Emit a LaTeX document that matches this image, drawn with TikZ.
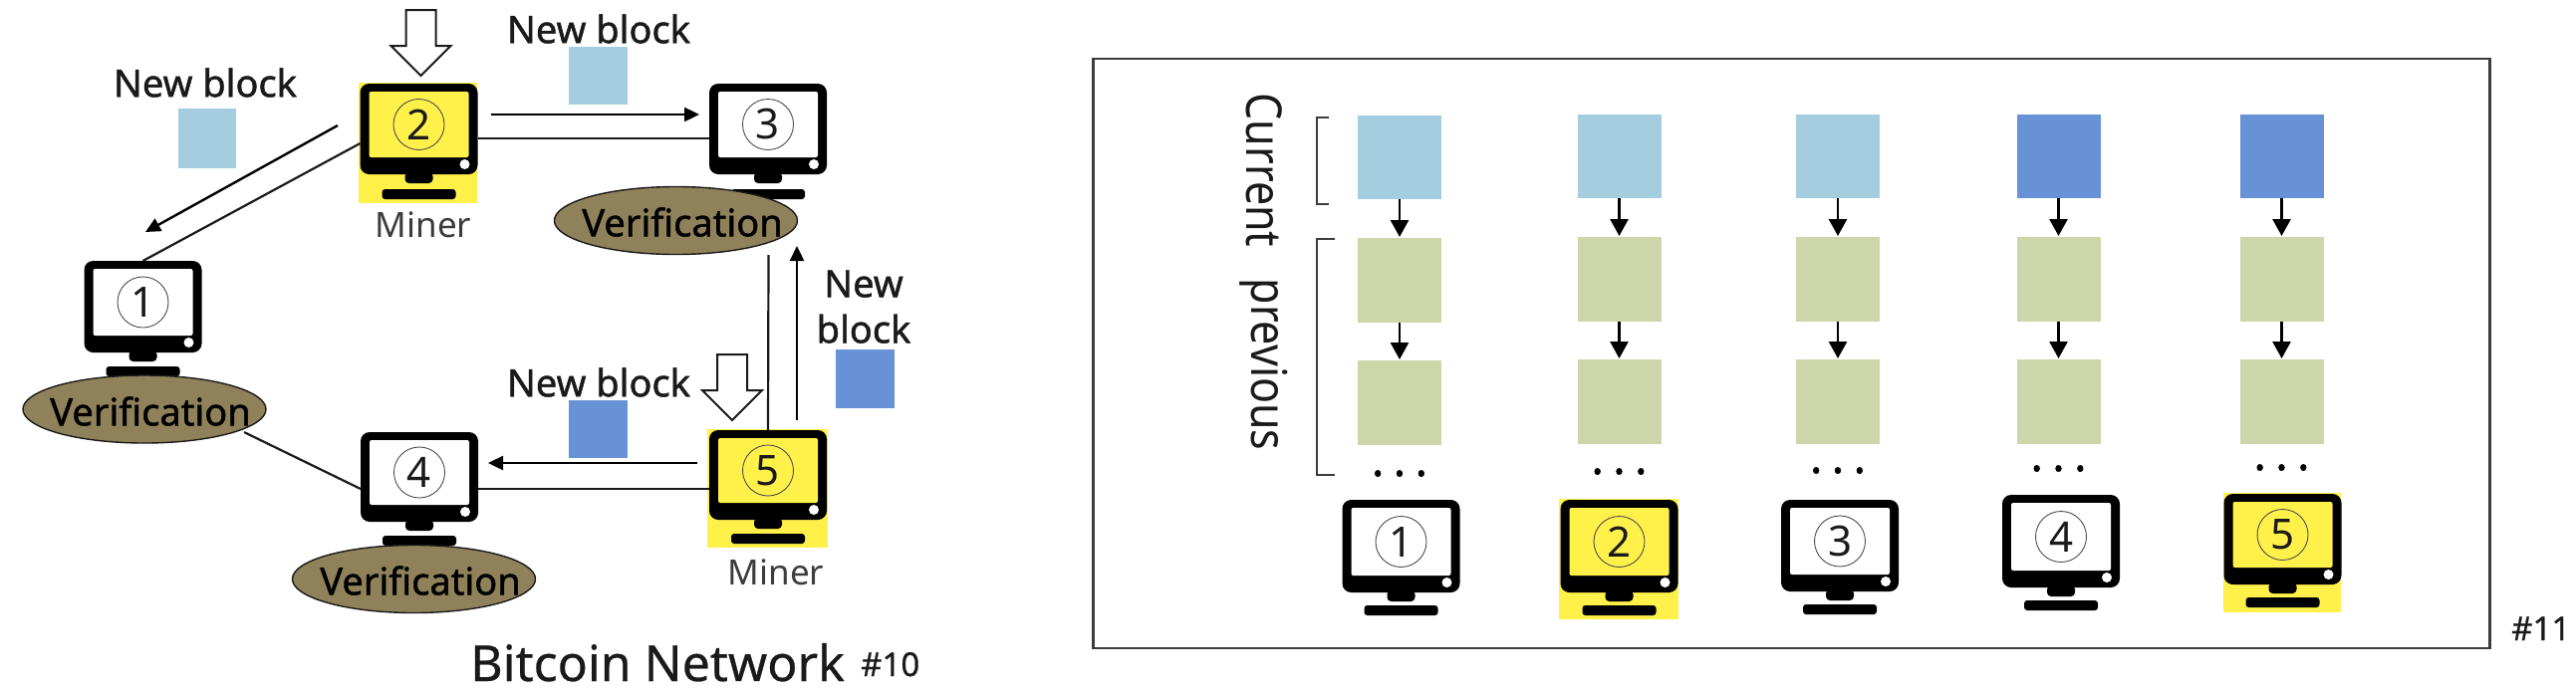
\documentclass[tikz,border=0pt]{standalone}
\usepackage{fontspec}
\setmainfont{Noto Sans}
\newfontfamily\medfont[FakeBold=1.2]{Noto Sans}
\newfontfamily\semifont[FakeBold=0.5]{Noto Sans}
\usetikzlibrary{arrows.meta,shapes.geometric,calc}
\definecolor{minery}{HTML}{FFF14A}
\definecolor{lightb}{HTML}{A5CDE0}
\definecolor{darkb}{HTML}{6792D6}
\definecolor{oldg}{HTML}{CDD6A8}
\definecolor{verif}{HTML}{8F8159}
\definecolor{inkc}{HTML}{1A1A1A}
\tikzset{
  compbody/.style={rectangle,rounded corners=9pt,fill=black,inner sep=0pt,outer sep=0pt},
  numcircle/.style={circle,draw=black!70,line width=0.9pt,minimum size=51pt,inner sep=0pt,font=\fontsize{42}{42}\selectfont,text=inkc},
  verifnode/.style={ellipse,draw=inkc,line width=1.4pt,fill=verif,minimum width=244pt,minimum height=68pt,inner sep=0pt},
  veriftext/.style={font=\medfont\fontsize{38}{38}\selectfont,text=black,inner sep=0pt},
  newblock/.style={font=\medfont\fontsize{38}{46}\selectfont,align=center,text=inkc,inner sep=0pt},
  minerlabel/.style={font=\fontsize{35}{35}\selectfont,text=inkc!85,inner sep=0pt},
  block/.style={rectangle,inner sep=0pt,outer sep=0pt},
  link/.style={line width=2.2pt,draw=inkc},
  flow/.style={line width=2.4pt,draw=black,-{Triangle[length=15pt,width=14pt]}},
  chain/.style={line width=2.6pt,draw=black,-{Triangle[length=17pt,width=18pt]},shorten >=1pt},
  hollow/.style={draw=inkc,line width=2pt,fill=white,line join=miter},
  bracket/.style={draw=inkc!85,line width=2pt},
  sidelabel/.style={font=\fontsize{43}{43}\selectfont,rotate=-90,text=inkc,inner sep=0pt},
  pagenum/.style={font=\semifont\fontsize{33}{33}\selectfont,text=inkc,inner sep=0pt},
  dotsnode/.style={font=\medfont\fontsize{46}{46}\selectfont,text=black,inner sep=0pt,anchor=base}
}
% name, cx, top, body bottom, base top, number, screen colour
\newcommand{\computer}[7]{%
  \node[compbody,minimum width=118pt,minimum height={(#4-#3)*1pt}] (#1) at (#2,{(#3+#4)/2}) {};
  \fill[#7,rounded corners=2pt] ({#2-50},{#3+8}) rectangle ({#2+50},{#4-17});
  \fill[white] ({#2+46},{#4-10}) circle (5pt);
  \fill[black,rounded corners=4pt] ({#2-14},{#4-2}) rectangle ({#2+14},{#4+9});
  \fill[black,rounded corners=3pt] ({#2-37},#5) rectangle ({#2+37},{#5+10});
  \node[numcircle] (#1n) at (#2,{(#3+#4-9)/2}) {#6};
}
% x-centre, top
\newcommand{\downarrowbig}[2]{%
  \draw[hollow] ({#1-15},#2) -- ({#1+15},#2) -- ({#1+15},{#2+36}) -- ({#1+30},{#2+36}) -- (#1,{#2+66}) -- ({#1-30},{#2+36}) -- ({#1-15},{#2+36}) -- cycle;
}
% id, cx, top offset, colour, dots y
\newcommand{\chaincol}[5]{%
  \node[block,fill=#4,minimum width=84pt,minimum height=84pt] (b#1) at (#2,{157+#3}) {};
  \node[block,fill=oldg,minimum width=84pt,minimum height=85pt] (g#1) at (#2,{280.5+#3}) {};
  \node[block,fill=oldg,minimum width=84pt,minimum height=85pt] (h#1) at (#2,{403.5+#3}) {};
  \draw[chain] (b#1) -- (g#1);
  \draw[chain] (g#1) -- (h#1);
  \node[dotsnode] (d#1) at (#2,{#5+3}) {.\kern9.5pt.\kern9.5pt.};
}
\begin{document}
\begin{tikzpicture}[x=1pt,y=-1pt]
\useasboundingbox (0,0) rectangle (2586,694);
\fill[white] (0,0) rectangle (2586,694);

% ---------- left panel
\fill[minery] (360,83) rectangle (479,204);
\fill[minery] (710,431) rectangle (831,550);
\computer{c2}{420.5}{84}{175}{190}{2}{minery}
\computer{c3}{771}{84}{175}{190}{3}{white}
\computer{c1}{143.5}{262}{354}{368}{1}{white}
\computer{c4}{421}{434}{524}{538}{4}{white}
\computer{c5}{771}{432}{522}{536}{5}{minery}

\node[verifnode] (e3) at (678.5,221.5) {};
\node[verifnode] (e1) at (145,411) {};
\node[verifnode] (e4) at (415.5,581.5) {};
\node[veriftext] (v3) at (685,223) {Verification};
\node[veriftext] (v1) at (151,413) {Verification};
\node[veriftext] (v4) at (422,583) {Verification};

\coordinate (l2a) at (362,144);
\coordinate (l1a) at (146,262);
\coordinate (f2a) at (339,126);
\coordinate (f1a) at (146,233);
\coordinate (f23a) at (493,115);
\coordinate (f23b) at (702,115);
\coordinate (f54a) at (700,465);
\coordinate (f54b) at (490,465);
\coordinate (f53a) at (800,422);
\coordinate (f53b) at (800,247);
\coordinate (l23a) at (479,139);
\coordinate (l23b) at (712,139);
\coordinate (l54a) at (712,491);
\coordinate (l54b) at (480,491);
\coordinate (l53a) at (771.5,432);
\coordinate (l53b) at (771.5,254);
\coordinate (l14a) at (245,434);
\coordinate (l14b) at (362,491);

\draw[link] (c2.west |- l2a) -- (c1.north |- l1a);
\draw[flow] (f2a) -- (f1a);
\draw[link] (c2.east |- l23a) -- (c3.west |- l23b);
\draw[flow] (f23a) -- (f23b);
\draw[link] (c5.west |- l54a) -- (c4.east |- l54b);
\draw[flow] (f54a) -- (f54b);
\draw[link] (c5.north) -- (e3.south -| l53b);
\draw[flow] (f53a) -- (f53b);
\draw[link] (l14a) -- (c4.west |- l14b);

\downarrowbig{422.5}{10}
\downarrowbig{735}{356}

\node[newblock] (t1) at (206,83) {New block};
\node[newblock] (t2) at (601,29) {New block};
\node[newblock] (t3) at (601,384) {New block};
\node[newblock] (t4) at (867,308) {New\\block};
\node[block,fill=lightb,minimum width=58pt,minimum height=60pt] (n1) at (208,139) {};
\node[block,fill=lightb,minimum width=59pt,minimum height=58pt] (n2) at (600.5,76) {};
\node[block,fill=darkb,minimum width=59pt,minimum height=58pt] (n3) at (600.5,431) {};
\node[block,fill=darkb,minimum width=59pt,minimum height=59pt] (n4) at (868.5,380.5) {};
\node[minerlabel] (m1) at (425,226) {Miner};
\node[minerlabel] (m2) at (779,575) {Miner};
\node[font=\semifont\fontsize{50}{50}\selectfont,text=inkc,inner sep=0pt,anchor=base west] (title) at (472,684) {Bitcoin Network};
\node[pagenum,anchor=base west] (p10) at (864,679) {\#10};

% ---------- right panel
\node[rectangle,draw=inkc!85,line width=2.4pt,minimum width=1402pt,minimum height=592pt,inner sep=0pt] (frame) at (1798.5,355) {};

\chaincol{1}{1405}{1}{lightb}{475}
\chaincol{2}{1625.5}{0}{lightb}{473}
\chaincol{3}{1845}{0}{lightb}{472}
\chaincol{4}{2066.5}{0}{darkb}{470}
\chaincol{5}{2290.5}{0}{darkb}{469}

\fill[minery] (1565,501) rectangle (1685,622);
\fill[minery] (2232,495) rectangle (2350,615);
\computer{r1}{1406.5}{502}{595}{608}{1}{white}
\computer{r2}{1625.5}{502}{595}{608}{2}{minery}
\computer{r3}{1847}{502}{594}{607}{3}{white}
\computer{r4}{2069}{497}{590}{603}{4}{white}
\computer{r5}{2291.5}{496}{587}{600}{5}{minery}

\draw[bracket] (1334,118) -- (1322,118) -- (1322,205) -- (1334,205);
\draw[bracket] (1340,240) -- (1322,240) -- (1322,477) -- (1340,477);
\node[sidelabel] (cur) at (1269,171) {\scalebox{1}[1.15]{Current}};
\node[sidelabel] (prev) at (1269,366) {\scalebox{1}[1.15]{previous}};
\node[pagenum,anchor=base west] (p11) at (2521,643) {\#11};
\end{tikzpicture}
\end{document}
